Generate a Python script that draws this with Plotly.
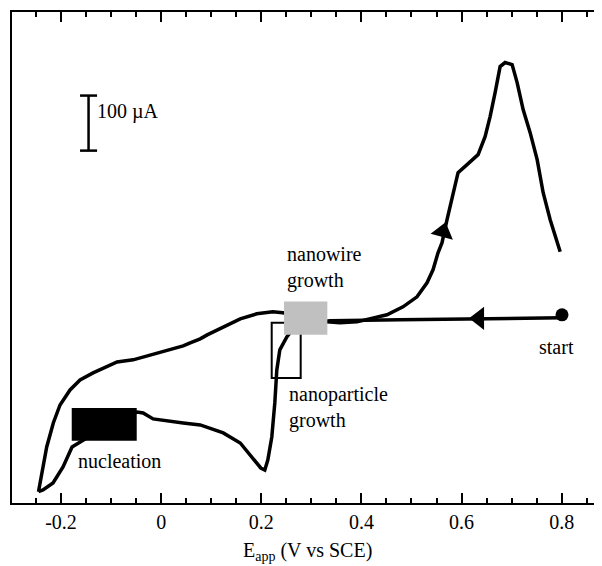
import plotly.graph_objects as go

# ---- data (E in V vs SCE, current in µA, baseline = 0) ----
E_cathodic = [0.800, 0.700, 0.617, 0.477, 0.337, 0.277, 0.262, 0.251, 0.237, 0.231, 0.227,
              0.221, 0.213, 0.207, 0.199, 0.191, 0.158, 0.124, 0.092, 0.078, 0.044, 0.012,
              -0.016, -0.036, -0.048, -0.110, -0.178, -0.196, -0.216, -0.236, -0.245]
I_cathodic = [1.8, 1.0, 0.0, -1.8, -3.6, -10.9, -20.0, -32.7, -56.4, -92.7, -152.7,
              -214.5, -256.4, -274.5, -270.9, -261.8, -225.5, -207.3, -196.4, -192.7, -189.1, -185.5,
              -181.8, -170.9, -169.1, -195.0, -232.7, -269.1, -298.2, -310.9, -314.0]

E_anodic = [-0.245, -0.2385, -0.2286, -0.2154, -0.202, -0.182, -0.162, -0.136, -0.108, -0.088,
            -0.056, -0.022, 0.012, 0.044, 0.058, 0.078, 0.092, 0.124, 0.158, 0.191, 0.223,
            0.243, 0.287, 0.331, 0.357, 0.391, 0.423, 0.451, 0.483, 0.511, 0.531, 0.543,
            0.553, 0.561, 0.571, 0.581, 0.593, 0.611, 0.633, 0.647, 0.657, 0.667, 0.677,
            0.687, 0.701, 0.711, 0.723, 0.737, 0.751, 0.763, 0.777, 0.797]
I_anodic = [-314.0, -280.0, -232.7, -189.1, -156.4, -129.1, -110.9, -98.2, -87.3, -78.2,
            -74.5, -65.5, -56.4, -49.1, -43.6, -36.4, -29.1, -14.5, 0.0, 9.1, 12.7,
            10.9, 1.8, -5.5, -7.3, -5.5, 1.8, 7.3, 21.8, 40.0, 65.5, 89.1,
            120.0, 138.2, 180.0, 221.8, 265.5, 280.0, 298.2, 330.9, 367.3, 410.9, 458.2,
            465.5, 461.8, 429.1, 380.0, 338.2, 289.1, 229.1, 180.0, 121.8]

start_E, start_I = 0.8006, 7.3
arrow_left_E, arrow_left_I = 0.635, 0.9
arrow_up_E, arrow_up_I = 0.563, 158.0

# regions (E range, current range)
nucleation_box = [-0.1786, -0.0488, -221.3, -161.8]
nanowire_box = [0.2454, 0.3319, -29.1, 31.5]
nanoparticle_box = [0.2208, 0.2787, -107.3, -7.3]

scale_E, scale_top, scale_len, scale_cap = -0.145, 405.5, 100.0, 0.017

tick_vals = [-0.2, 0, 0.2, 0.4, 0.6, 0.8]
tick_text = ["-0.2", "0", "0.2", "0.4", "0.6", "0.8"]

FONT = "Liberation Serif"
FS = 20

fig = go.Figure()
fig.add_trace(go.Scatter(x=E_cathodic, y=I_cathodic, mode="lines",
                         line=dict(color="black", width=3.5), hoverinfo="skip"))
fig.add_trace(go.Scatter(x=E_anodic, y=I_anodic, mode="lines",
                         line=dict(color="black", width=3.5), hoverinfo="skip"))
fig.add_trace(go.Scatter(x=[start_E], y=[start_I], mode="markers",
                         marker=dict(color="black", size=13, symbol="circle")))
fig.add_trace(go.Scatter(x=[arrow_left_E], y=[arrow_left_I], mode="markers",
                         marker=dict(color="black", size=20, symbol="triangle-left")))
fig.add_trace(go.Scatter(x=[arrow_up_E], y=[arrow_up_I], mode="markers",
                         marker=dict(color="black", size=20, symbol="triangle-up", angle=15)))

shapes = [
    dict(type="rect", x0=nanoparticle_box[0], x1=nanoparticle_box[1],
         y0=nanoparticle_box[2], y1=nanoparticle_box[3],
         line=dict(color="black", width=2), fillcolor="rgba(0,0,0,0)", layer="above"),
    dict(type="rect", x0=nanowire_box[0], x1=nanowire_box[1],
         y0=nanowire_box[2], y1=nanowire_box[3],
         line=dict(width=0), fillcolor="#c0c0c0", layer="above"),
    dict(type="rect", x0=nucleation_box[0], x1=nucleation_box[1],
         y0=nucleation_box[2], y1=nucleation_box[3],
         line=dict(width=0), fillcolor="black", layer="above"),
    # scale bar
    dict(type="line", x0=scale_E, x1=scale_E, y0=scale_top, y1=scale_top - scale_len,
         line=dict(color="black", width=2.5)),
    dict(type="line", x0=scale_E - scale_cap, x1=scale_E + scale_cap, y0=scale_top, y1=scale_top,
         line=dict(color="black", width=2.5)),
    dict(type="line", x0=scale_E - scale_cap, x1=scale_E + scale_cap,
         y0=scale_top - scale_len, y1=scale_top - scale_len,
         line=dict(color="black", width=2.5)),
]

tf = dict(family=FONT, size=FS, color="black")
annotations = [
    dict(x=0.2474, y=92.7, text="nanowire<br>growth", showarrow=False, xanchor="left",
         yanchor="middle", align="left", font=tf),
    dict(x=0.2514, y=-160.9, text="nanoparticle<br>growth", showarrow=False, xanchor="left",
         yanchor="middle", align="left", font=tf),
    dict(x=-0.0832, y=-258.2, text="nucleation", showarrow=False, xanchor="center",
         yanchor="middle", font=tf),
    dict(x=0.7906, y=-50.9, text="start", showarrow=False, xanchor="center",
         yanchor="middle", font=tf),
    dict(x=-0.132, y=376.4, text="100 µA", showarrow=False, xanchor="left",
         yanchor="middle", font=tf),
    dict(x=0.5, xref="paper", y=-0.069, yref="paper", text="E<sub>app</sub> (V vs SCE)",
         showarrow=False, xanchor="center", yanchor="top", font=tf),
]

fig.update_layout(
    width=594, height=558,
    margin=dict(l=4, r=0, t=4, b=63),
    paper_bgcolor="white", plot_bgcolor="white",
    showlegend=False,
    shapes=shapes, annotations=annotations,
    font=dict(family=FONT, size=FS, color="black"),
    xaxis=dict(range=[-0.2979, 0.8805], tickmode="array", tickvals=tick_vals, ticktext=tick_text,
               ticks="inside", ticklen=10, tickwidth=2, tickcolor="black",
               showline=True, linewidth=2, linecolor="black", mirror="ticks",
               showgrid=False, zeroline=False, tickfont=tf,
               minor=dict(ticks="inside", ticklen=5, tickwidth=2, tickcolor="black",
                          dtick=0.05, tick0=0, showgrid=False)),
    yaxis=dict(range=[-334.5, 557.3], showticklabels=False, ticks="",
               showline=True, linewidth=2, linecolor="black", mirror=False,
               showgrid=False, zeroline=False),
)

fig.write_html("out.html")
